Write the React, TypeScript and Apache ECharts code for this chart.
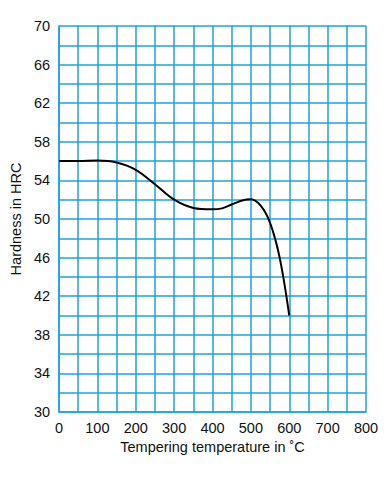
import React, { useEffect, useRef } from "react";
import * as echarts from "echarts";

const temperatures = [0, 50, 100, 150, 200, 250, 300, 350, 400, 425, 450, 475, 500, 525, 550, 575, 600];
const hardness = [56, 56, 56.05, 55.85, 55.1, 53.6, 52.0, 51.15, 51.0, 51.1, 51.5, 51.9, 52.05, 51.4, 49.6, 46.0, 40];

const X_MIN = 0, X_MAX = 800, X_GRID = 50, X_LABEL = 100;
const Y_MIN = 30, Y_MAX = 70, Y_GRID = 2, Y_LABEL = 4;

const BLUE = "#1ea2de";
const FONT = "Liberation Sans, Arial, Helvetica, sans-serif";

export default function App() {
  const ref = useRef<HTMLDivElement>(null);
  useEffect(() => {
    if (!ref.current) return;
    const chart = echarts.init(ref.current, null, { renderer: "svg" });
    chart.setOption({
      animation: false,
      backgroundColor: "#ffffff",
      grid: { left: 57.5, right: 26, top: 26, bottom: 69, containLabel: false },
      xAxis: {
        type: "value",
        min: X_MIN,
        max: X_MAX,
        interval: X_GRID,
        name: "Tempering temperature in \u02DAC",
        nameLocation: "middle",
        nameGap: 25,
        nameTextStyle: { color: "#111", fontSize: 14.5, fontFamily: FONT },
        axisLine: { show: true, lineStyle: { color: BLUE, width: 1.5 } },
        axisTick: { show: false },
        axisLabel: {
          color: "#111",
          fontSize: 14.5,
          fontFamily: FONT,
          margin: 8,
          formatter: (v: number) => (v % X_LABEL === 0 ? String(v) : ""),
        },
        splitLine: { show: true, lineStyle: { color: BLUE, width: 1.5 } },
      },
      yAxis: {
        type: "value",
        min: Y_MIN,
        max: Y_MAX,
        interval: Y_GRID,
        name: "Hardness in HRC",
        nameLocation: "middle",
        nameGap: 32,
        nameTextStyle: { color: "#111", fontSize: 14.5, fontFamily: FONT },
        axisLine: { show: true, lineStyle: { color: BLUE, width: 1.5 } },
        axisTick: { show: false },
        axisLabel: {
          color: "#111",
          fontSize: 14.5,
          fontFamily: FONT,
          margin: 9,
          formatter: (v: number) => ((v - Y_MIN) % Y_LABEL === 0 ? String(v) : ""),
        },
        splitLine: { show: true, lineStyle: { color: BLUE, width: 1.5 } },
      },
      series: [
        {
          type: "line",
          data: temperatures.map((t, i) => [t, hardness[i]]),
          smooth: 0.35,
          showSymbol: false,
          symbol: "none",
          lineStyle: { color: "#000", width: 2 },
        },
      ],
    });
    return () => chart.dispose();
  }, []);
  return (
    <div
      ref={ref}
      style={{ position: "absolute", left: 0, top: 0, width: 392, height: 481 }}
    />
  );
}
